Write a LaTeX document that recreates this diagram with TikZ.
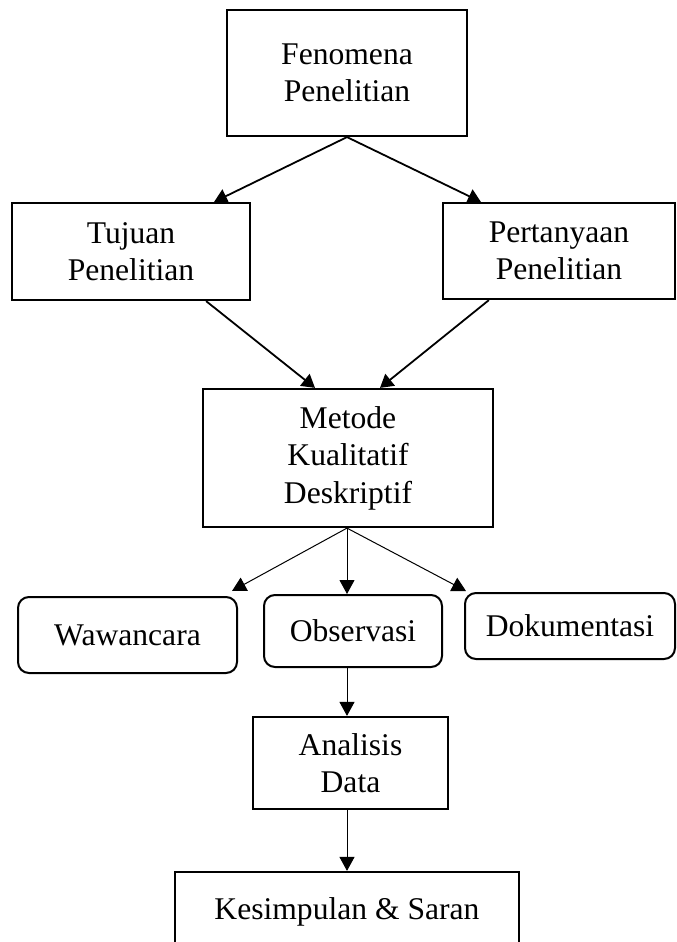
\documentclass[tikz,border=0pt]{standalone}
\usepackage{fontspec}
\setmainfont{Liberation Serif}
\usetikzlibrary{arrows.meta}
\begin{document}
\begin{tikzpicture}[x=1pt,y=-1pt,
  box/.style={draw,line width=2.2pt,align=center,inner sep=0pt,
    font=\fontsize{31.6}{37.5}\selectfont},
  rbox/.style={box,line width=2pt,rounded corners=11pt},
  bigarrow/.style={line width=1.8pt,-{Triangle[length=13pt,width=15pt]}},
  smallarrow/.style={line width=1pt,-{Triangle[length=14pt,width=15pt]}}]
\useasboundingbox (0,0) rectangle (677,942);
\clip (0,0) rectangle (677,942);
\node[box,minimum width=240pt,minimum height=126pt] (fen) at (347,73) {Fenomena\\Penelitian};
\node[box,minimum width=238pt,minimum height=97pt] (tuj) at (131,251.5) {Tujuan\\Penelitian};
\node[box,minimum width=232pt,minimum height=96pt] (per) at (559,251) {Pertanyaan\\Penelitian};
\node[box,minimum width=290pt,minimum height=138pt] (met) at (348,458) {Metode\\Kualitatif\\Deskriptif};
\node[rbox,minimum width=219pt,minimum height=76pt] (waw) at (127.5,635) {Wawancara};
\node[rbox,minimum width=178pt,minimum height=72pt] (obs) at (353,631) {Observasi};
\node[rbox,minimum width=210pt,minimum height=66pt] (dok) at (570,626) {Dokumentasi};
\node[box,minimum width=195pt,minimum height=92pt] (ana) at (350.5,763) {Analisis\\Data};
\node[box,minimum width=344pt,minimum height=80pt] (kes) at (347,912) {Kesimpulan \& Saran};
\draw[bigarrow] (fen.south) -- ([xshift=-37pt]tuj.north east);
\draw[bigarrow] (fen.south) -- ([xshift=39pt]per.north west);
\draw[bigarrow] ([xshift=-45pt]tuj.south east) -- ([xshift=-33pt]met.north);
\draw[bigarrow] ([xshift=47pt]per.south west) -- ([xshift=32pt]met.north);
\draw[smallarrow] ([xshift=-1pt]met.south) -- ([xshift=-6pt,yshift=5pt]waw.north east);
\draw[smallarrow] ([xshift=-1pt]met.south) -- ([xshift=-6pt]obs.north);
\draw[smallarrow] ([xshift=-1pt]met.south) -- ([xshift=2pt,yshift=1pt]dok.north west);
\draw[smallarrow] ([xshift=-6pt]obs.south) -- ([xshift=-3.5pt]ana.north);
\draw[smallarrow] ([xshift=-3.5pt]ana.south) -- (kes.north);
\end{tikzpicture}
\end{document}
